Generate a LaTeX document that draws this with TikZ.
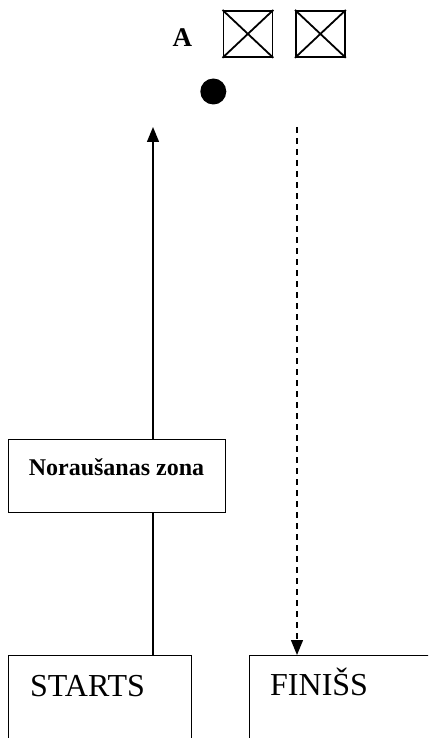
\documentclass[tikz,border=0pt]{standalone}
\usepackage{fontspec}
\setmainfont{Liberation Serif}
\usetikzlibrary{arrows.meta}
\begin{document}
\begin{tikzpicture}[x=1pt,y=-1pt,
  box/.style={draw,line width=1.3pt,rectangle,inner sep=0pt,anchor=north west},
  xbox/.style={draw,line width=1.8pt,rectangle,inner sep=0pt,minimum width=49pt,minimum height=46pt,anchor=north west},
  big/.style={font=\fontsize{32}{36}\selectfont,anchor=base west,inner sep=0pt},
  conn/.style={line width=1.3pt},
  tip/.style={-{Triangle[length=15pt,width=12pt]}}]
\useasboundingbox (0,0) rectangle (428,738);
\clip (0,0) rectangle (428,738);
% top symbols
\node[font=\bfseries\fontsize{27}{30}\selectfont,anchor=base west,inner sep=0pt] (A) at (172.5,46.5) {A};
\node[xbox] (x1) at (222.5,10) {};
\draw[line width=1.8pt] (x1.north west) -- (x1.south east) (x1.north east) -- (x1.south west);
\node[xbox] (x2) at (295,10) {};
\draw[line width=1.8pt] (x2.north west) -- (x2.south east) (x2.north east) -- (x2.south west);
\node[circle,fill=black,minimum size=26pt,inner sep=0pt] (dot) at (213.3,91.5) {};
% boxes
\node[box,minimum width=217pt,minimum height=73pt] (zone) at (8,439) {};
\node[font=\bfseries\fontsize{24}{28}\selectfont,inner sep=0pt] (zonetxt) at (116.5,467) {Noraušanas zona};
\node[box,minimum width=183pt,minimum height=120pt] (starts) at (8,655) {};
\node[big] (startstxt) at (30,696.5) {STARTS};
\node[box,minimum width=200pt,minimum height=120pt] (finis) at (248.5,655) {};
\node[big] (finistxt) at (270,695) {FINIŠS};
% connectors
\coordinate (uptop) at (153,127);
\draw[conn] (starts.north -| uptop) -- (zone.south -| uptop);
\draw[conn,tip] (zone.north -| uptop) -- (uptop);
\coordinate (dtop) at (297,127);
\draw[conn,dash pattern=on 6pt off 5pt,tip] (dtop) -- (dtop |- finis.north);
\end{tikzpicture}
\end{document}
